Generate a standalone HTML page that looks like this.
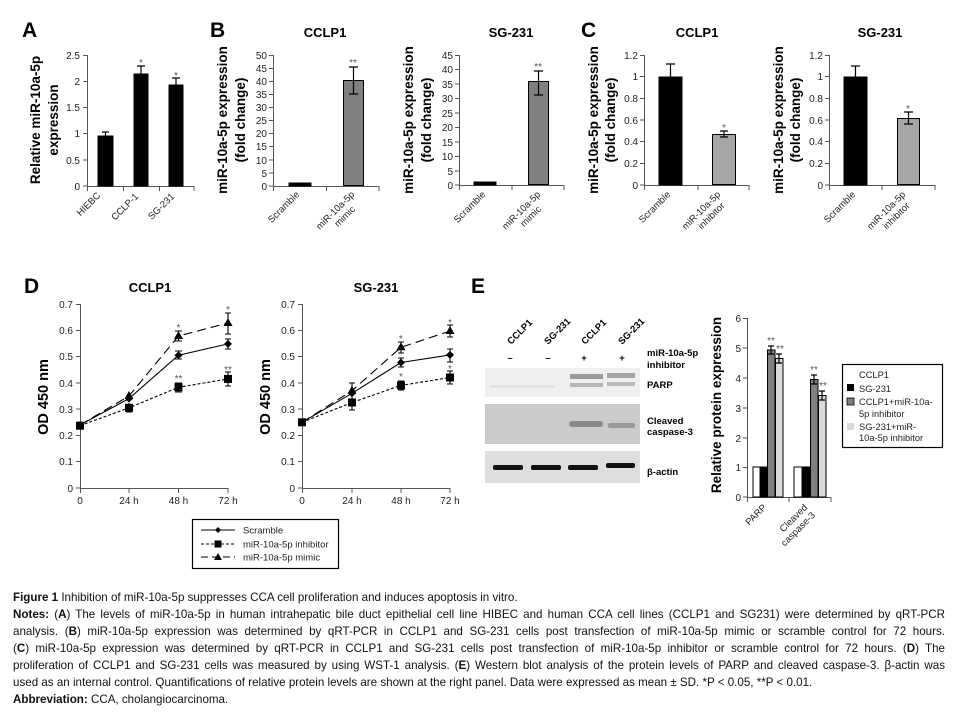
<!DOCTYPE html>
<html><head><meta charset="utf-8"><style>
body{margin:0;background:#fff;width:958px;height:717px;overflow:hidden;position:relative;font-family:"Liberation Sans",sans-serif}
svg text{font-family:"Liberation Sans",sans-serif}
.cap{position:absolute;left:13px;width:932px;font-size:11.6px;color:#111;white-space:nowrap;line-height:17px;overflow:hidden}
.j{text-align:justify;text-align-last:justify}
</style></head><body>
<svg width="958" height="717" viewBox="0 0 958 717" style="position:absolute;left:0;top:0">
<g font-weight="bold" font-size="21" fill="#000">
<text x="22" y="37">A</text><text x="210" y="37">B</text><text x="581" y="37">C</text>
<text x="24" y="293">D</text><text x="471" y="293">E</text>
</g>
<g font-weight="bold" font-size="13" text-anchor="middle">
<text x="325" y="37">CCLP1</text><text x="511" y="37">SG-231</text>
<text x="697" y="37">CCLP1</text><text x="880" y="37">SG-231</text>
<text x="150" y="292">CCLP1</text><text x="376" y="292">SG-231</text>
</g>
<g font-weight="bold" font-size="13.5" text-anchor="middle">
<text transform="translate(40,120) rotate(-90)">Relative miR-10a-5p</text>
<text transform="translate(58,120) rotate(-90)">expression</text>
<text transform="translate(227,120) rotate(-90)">miR-10a-5p expression</text>
<text transform="translate(245,120) rotate(-90)">(fold change)</text>
<text transform="translate(413,120) rotate(-90)">miR-10a-5p expression</text>
<text transform="translate(431,120) rotate(-90)">(fold change)</text>
<text transform="translate(598,120) rotate(-90)">miR-10a-5p expression</text>
<text transform="translate(615,120) rotate(-90)">(fold change)</text>
<text transform="translate(783,120) rotate(-90)">miR-10a-5p expression</text>
<text transform="translate(800,120) rotate(-90)">(fold change)</text>
<text transform="translate(48,397) rotate(-90)" font-size="14.5">OD 450 nm</text>
<text transform="translate(270,397) rotate(-90)" font-size="14.5">OD 450 nm</text>
<text transform="translate(721,405) rotate(-90)">Relative protein expression</text>
</g>
<g stroke="#555" stroke-width="1" fill="none">
<path d="M87.5 55V186.5H194M83 55.5H87M83 81.5H87M83 107.5H87M83 133.5H87M83 160H87M83 186H87M87.5 186V191M123.5 186V191M159.5 186V191M194 186V191"/>
<path d="M273.5 55V186.5H379M269 55.5h4M269 68.5h4M269 81.5h4M269 94.5h4M269 107.5h4M269 120.5h4M269 133.5h4M269 146.5h4M269 160h4M269 173h4M269 186h4M273.5 186v5M326.5 186v5M379 186v5"/>
<path d="M459.5 55V185.5H564M455 55.5h4M455 69.5h4M455 84h4M455 98.5h4M455 113h4M455 127.5h4M455 142h4M455 156.5h4M455 171h4M455 185h4M459.5 185v5M512 185v5M564 185v5"/>
<path d="M644.5 55V185.5H749M640 55.5h4M640 76.5h4M640 98.5h4M640 120h4M640 141.5h4M640 163.5h4M640 185h4M644.5 185v5M698 185v5M749 185v5"/>
<path d="M829.5 55V185.5H935M825 55.5h4M825 76.5h4M825 98.5h4M825 120h4M825 141.5h4M825 163.5h4M825 185h4M829.5 185v5M882 185v5M935 185v5"/>
<path d="M80.5 304V488.5H228M76 304.5h4M76 330.5h4M76 356.5h4M76 383h4M76 409h4M76 435.5h4M76 461.5h4M76 488h4M80.5 488v5M129 488v5M178.5 488v5M228 488v5"/>
<path d="M302.5 304V488.5H450M298 304.5h4M298 330.5h4M298 356.5h4M298 383h4M298 409h4M298 435.5h4M298 461.5h4M298 488h4M302.5 488v5M352 488v5M401 488v5M450 488v5"/>
<path d="M747.5 318V497.5H831M743 318.5h4M743 348h4M743 378h4M743 408h4M743 438h4M743 467.5h4M743 497h4M747.5 497v5M789 497v5M831 497v5"/>
</g>
<g font-size="10" fill="#222" text-anchor="end">
<text x="80" y="59">2.5</text><text x="80" y="85">2</text><text x="80" y="111">1.5</text><text x="80" y="137">1</text><text x="80" y="164">0.5</text><text x="80" y="190">0</text>
<text x="267" y="59">50</text><text x="267" y="72">45</text><text x="267" y="85">40</text><text x="267" y="98">35</text><text x="267" y="111">30</text><text x="267" y="124">25</text><text x="267" y="137">20</text><text x="267" y="150">15</text><text x="267" y="164">10</text><text x="267" y="177">5</text><text x="267" y="190">0</text>
<text x="453" y="59">45</text><text x="453" y="73">40</text><text x="453" y="88">35</text><text x="453" y="102">30</text><text x="453" y="117">25</text><text x="453" y="131">20</text><text x="453" y="146">15</text><text x="453" y="160">10</text><text x="453" y="175">5</text><text x="453" y="189">0</text>
<text x="638" y="59">1.2</text><text x="638" y="80">1</text><text x="638" y="102">0.8</text><text x="638" y="124">0.6</text><text x="638" y="145">0.4</text><text x="638" y="167">0.2</text><text x="638" y="189">0</text>
<text x="823" y="59">1.2</text><text x="823" y="80">1</text><text x="823" y="102">0.8</text><text x="823" y="124">0.6</text><text x="823" y="145">0.4</text><text x="823" y="167">0.2</text><text x="823" y="189">0</text>
<text x="73" y="308">0.7</text><text x="73" y="334">0.6</text><text x="73" y="360">0.5</text><text x="73" y="387">0.4</text><text x="73" y="413">0.3</text><text x="73" y="439">0.2</text><text x="73" y="465">0.1</text><text x="73" y="492">0</text>
<text x="295" y="308">0.7</text><text x="295" y="334">0.6</text><text x="295" y="360">0.5</text><text x="295" y="387">0.4</text><text x="295" y="413">0.3</text><text x="295" y="439">0.2</text><text x="295" y="465">0.1</text><text x="295" y="492">0</text>
<text x="741" y="322">6</text><text x="741" y="352">5</text><text x="741" y="382">4</text><text x="741" y="412">3</text><text x="741" y="442">2</text><text x="741" y="471">1</text><text x="741" y="501">0</text>
</g>
<g font-size="10" fill="#222" text-anchor="middle">
<text x="80" y="504">0</text><text x="129" y="504">24 h</text><text x="178.5" y="504">48 h</text><text x="228" y="504">72 h</text>
<text x="302" y="504">0</text><text x="352" y="504">24 h</text><text x="401" y="504">48 h</text><text x="450" y="504">72 h</text>
</g>
<g font-size="9.5" fill="#222" text-anchor="end">
<text transform="translate(101,196) rotate(-45)">HIEBC</text>
<text transform="translate(139,197) rotate(-45)">CCLP-1</text>
<text transform="translate(175,197) rotate(-45)">SG-231</text>
<text transform="translate(300,195) rotate(-45)">Scramble</text>
<text transform="translate(355,195) rotate(-45)">miR-10a-5p<tspan x="-10" dy="11">mimic</tspan></text>
<text transform="translate(486,195) rotate(-45)">Scramble</text>
<text transform="translate(541,195) rotate(-45)">miR-10a-5p<tspan x="-10" dy="11">mimic</tspan></text>
<text transform="translate(671,195) rotate(-45)">Scramble</text>
<text transform="translate(721,195) rotate(-45)">miR-10a-5p<tspan x="-5" dy="11">inhibitor</tspan></text>
<text transform="translate(856,195) rotate(-45)">Scramble</text>
<text transform="translate(906,195) rotate(-45)">miR-10a-5p<tspan x="-5" dy="11">inhibitor</tspan></text>
<text transform="translate(767,508) rotate(-45)">PARP</text>
<text transform="translate(808,508) rotate(-45)">Cleaved<tspan x="0" dy="11">caspase-3</tspan></text>
</g>
<g stroke="#000" stroke-width="1">
<rect x="98" y="136" width="15" height="50" fill="#000"/>
<rect x="134" y="74" width="14" height="112" fill="#000"/>
<rect x="169" y="85" width="14" height="101" fill="#000"/>
<rect x="289" y="183" width="22" height="3" fill="#000"/>
<rect x="343.5" y="80.5" width="20" height="105" fill="#808080"/>
<rect x="474" y="182" width="22" height="3" fill="#000"/>
<rect x="528.5" y="81.5" width="20" height="103" fill="#808080"/>
<rect x="659" y="77" width="23" height="108" fill="#000"/>
<rect x="712.5" y="134.5" width="23" height="50" fill="#a6a6a6"/>
<rect x="844" y="77" width="23" height="108" fill="#000"/>
<rect x="897.5" y="118.5" width="22" height="66" fill="#a6a6a6"/>
<rect x="753" y="467" width="7" height="30" fill="#fff"/>
<rect x="760" y="467" width="7" height="30" fill="#000"/>
<rect x="767.5" y="350" width="7.5" height="147" fill="#808080"/>
<rect x="775.5" y="358.5" width="7.5" height="138.5" fill="#d9d9d9"/>
<rect x="794" y="467" width="8" height="30" fill="#fff"/>
<rect x="802" y="467" width="8" height="30" fill="#000"/>
<rect x="810.5" y="379.5" width="7.5" height="117.5" fill="#808080"/>
<rect x="818.5" y="395.5" width="7.5" height="101.5" fill="#d9d9d9"/>
</g>
<g stroke="#000" stroke-width="1.2" fill="none">
<path d="M105.5 136V132M102 132h7M141 74V66M137 66h8M176 85V78M172 78h8"/>
<path d="M353.5 94V67M349 67h9M349 94h9M538.5 95V71M534 71h9M534 95h9"/>
<path d="M670.5 77V64M666 64h9M724 137V131M720 131h8M720 137h8M855.5 77V66M851 66h9M908.5 124V112M904 112h9M904 124h9"/>
<path d="M771 346V354M768 346h6M768 354h6M779 354V363M776 354h6M776 363h6M814 375V384M811 375h6M811 384h6M822 391V400M819 391h6M819 400h6"/>
</g>
<g font-size="10" fill="#555" text-anchor="middle">
<text x="141" y="66">*</text><text x="176" y="79">*</text>
<text x="353" y="66">**</text><text x="538" y="70">**</text>
<text x="724" y="131">*</text><text x="908" y="112">*</text>
<text x="771" y="344">**</text><text x="780" y="352">**</text><text x="814" y="373">**</text><text x="823" y="389">**</text>
<text x="178.5" y="331">*</text><text x="228" y="313">*</text><text x="178.5" y="382">**</text><text x="228" y="373">**</text>
<text x="401" y="342">*</text><text x="450" y="326">*</text><text x="401" y="380">*</text><text x="450" y="372">*</text>
</g>
<g fill="none" stroke="#000" stroke-width="1.1">
<polyline points="80,425 129,398.6 178.5,355.2 228,343.9"/>
<polyline points="80,425.7 129,407.8 178.5,387.3 228,378.9" stroke-dasharray="3,2"/>
<polyline points="80,425 129,396 178.5,336 228,323" stroke-dasharray="9,5"/>
<polyline points="302,422.3 352,393.3 401,362.5 450,354.9"/>
<polyline points="302,422.3 352,402.5 401,385.4 450,377.5" stroke-dasharray="3,2"/>
<polyline points="302,422.3 352,390.7 401,347.3 450,331" stroke-dasharray="9,5"/>
<path d="M178.5 351V359M175 351h7M175 359h7M228 339V349M225 339h6M225 349h6M178.5 383V392M175 383h7M175 392h7M228 372V386M225 372h6M225 386h6M178.5 331V341M175 331h7M175 341h7M228 313V334M225 313h6M225 334h6M129 394V402M129 403V412M126 412h6"/>
<path d="M401 358V367M398 358h6M398 367h6M450 349V362M447 349h6M447 362h6M401 381V390M398 381h6M398 390h6M450 371V384M447 371h6M447 384h6M401 342V353M398 342h6M398 353h6M450 325V337M447 325h6M447 337h6M352 383V398M349 383h6M352 396V410M349 410h6"/>
</g>
<g fill="#000">
<path d="M80 421l4 4-4 4-4-4zM129 394.6l4 4-4 4-4-4zM178.5 351.2l4 4-4 4-4-4zM228 339.9l4 4-4 4-4-4z"/>
<path d="M302 418.3l4 4-4 4-4-4zM352 389.3l4 4-4 4-4-4zM401 358.5l4 4-4 4-4-4zM450 350.9l4 4-4 4-4-4z"/>
<rect x="76" y="421.7" width="8" height="8"/><rect x="125" y="403.8" width="8" height="8"/><rect x="174.5" y="383.3" width="8" height="8"/><rect x="224" y="374.9" width="8" height="8"/>
<rect x="298" y="418.3" width="8" height="8"/><rect x="348" y="398.5" width="8" height="8"/><rect x="397" y="381.4" width="8" height="8"/><rect x="446" y="373.5" width="8" height="8"/>
<path d="M129 391l4.5 8h-9zM178.5 331l4.5 8h-9zM228 318l4.5 8h-9zM352 385.7l4.5 8h-9zM401 342.3l4.5 8h-9zM450 326l4.5 8h-9z"/>
</g>
<rect x="192.5" y="519.5" width="146" height="49" fill="none" stroke="#000" stroke-width="1.2"/>
<g stroke="#000" stroke-width="1.1" fill="none">
<path d="M201 530H235"/><path d="M201 544H235" stroke-dasharray="3,2"/><path d="M201 557H235" stroke-dasharray="7,4"/>
</g>
<path d="M218 527l3 3-3 3-3-3z" fill="#000"/><rect x="214.5" y="540.5" width="7" height="7" fill="#000"/><path d="M218 553l4 7h-8z" fill="#000"/>
<g font-size="9.5" fill="#222"><text x="243" y="533.5">Scramble</text><text x="243" y="547.5">miR-10a-5p inhibitor</text><text x="243" y="560.5">miR-10a-5p mimic</text></g>
<rect x="485" y="368" width="155" height="29" fill="#efefef"/>
<rect x="570" y="374" width="33" height="5" fill="#9a9a9a"/><rect x="607" y="373" width="28" height="5" fill="#a5a5a5"/>
<rect x="570" y="383" width="33" height="4" fill="#b5b5b5"/><rect x="607" y="382" width="28" height="4" fill="#bbb"/>
<rect x="490" y="385" width="65" height="3" fill="#e3e3e3"/>
<rect x="485" y="404" width="155" height="40" fill="#cbcbcb"/>
<rect x="569" y="421" width="34" height="6" rx="3" fill="#8a8a8a"/><rect x="608" y="423" width="27" height="5" rx="2" fill="#999"/>
<rect x="485" y="451" width="155" height="32" fill="#dedede"/>
<rect x="493" y="465" width="30" height="5" rx="2" fill="#111"/><rect x="531" y="465" width="30" height="5" rx="2" fill="#111"/><rect x="568" y="465" width="30" height="5" rx="2" fill="#111"/><rect x="606" y="463" width="29" height="5" rx="2" fill="#111"/>
<g font-size="9.5" font-weight="bold" fill="#000">
<text transform="translate(511,345) rotate(-45)">CCLP1</text>
<text transform="translate(548,345) rotate(-45)">SG-231</text>
<text transform="translate(585,345) rotate(-45)">CCLP1</text>
<text transform="translate(622,345) rotate(-45)">SG-231</text>
<text x="647" y="356">miR-10a-5p</text><text x="647" y="368">inhibitor</text>
<text x="647" y="388">PARP</text><text x="647" y="424">Cleaved</text><text x="647" y="435">caspase-3</text><text x="647" y="475">β-actin</text>
<text x="510" y="361" text-anchor="middle">–</text><text x="548" y="361" text-anchor="middle">–</text>
<text x="584" y="361" text-anchor="middle">+</text><text x="622" y="361" text-anchor="middle">+</text>
</g>
<rect x="842.5" y="364.5" width="100" height="83" fill="none" stroke="#000" stroke-width="1.2"/>
<rect x="847" y="384" width="7" height="7" fill="#000"/>
<rect x="847" y="398" width="7" height="7" fill="#808080" stroke="#000" stroke-width="0.8"/>
<rect x="847" y="423" width="7" height="7" fill="#d9d9d9"/>
<g font-size="9.3" fill="#222">
<text x="859" y="378">CCLP1</text><text x="859" y="392">SG-231</text><text x="859" y="405">CCLP1+miR-10a-</text><text x="859" y="417">5p inhibitor</text><text x="859" y="430">SG-231+miR-</text><text x="859" y="441">10a-5p inhibitor</text>
</g>
</svg>
<div class="cap" style="top:589px"><b>Figure 1</b> Inhibition of miR-10a-5p suppresses CCA cell proliferation and induces apoptosis in vitro.</div>
<div class="cap j" style="top:606px"><b>Notes:</b> (<b>A</b>) The levels of miR-10a-5p in human intrahepatic bile duct epithelial cell line HIBEC and human CCA cell lines (CCLP1 and SG231) were determined by qRT-PCR</div>
<div class="cap j" style="top:623px">analysis. (<b>B</b>) miR-10a-5p expression was determined by qRT-PCR in CCLP1 and SG-231 cells post transfection of miR-10a-5p mimic or scramble control for 72 hours.</div>
<div class="cap j" style="top:640px">(<b>C</b>) miR-10a-5p expression was determined by qRT-PCR in CCLP1 and SG-231 cells post transfection of miR-10a-5p inhibitor or scramble control for 72 hours. (<b>D</b>) The</div>
<div class="cap j" style="top:657px">proliferation of CCLP1 and SG-231 cells was measured by using WST-1 analysis. (<b>E</b>) Western blot analysis of the protein levels of PARP and cleaved caspase-3. β-actin was</div>
<div class="cap" style="top:674px">used as an internal control. Quantifications of relative protein levels are shown at the right panel. Data were expressed as mean ± SD. *P &lt; 0.05, **P &lt; 0.01.</div>
<div class="cap" style="top:691px"><b>Abbreviation:</b> CCA, cholangiocarcinoma.</div>
</body></html>
